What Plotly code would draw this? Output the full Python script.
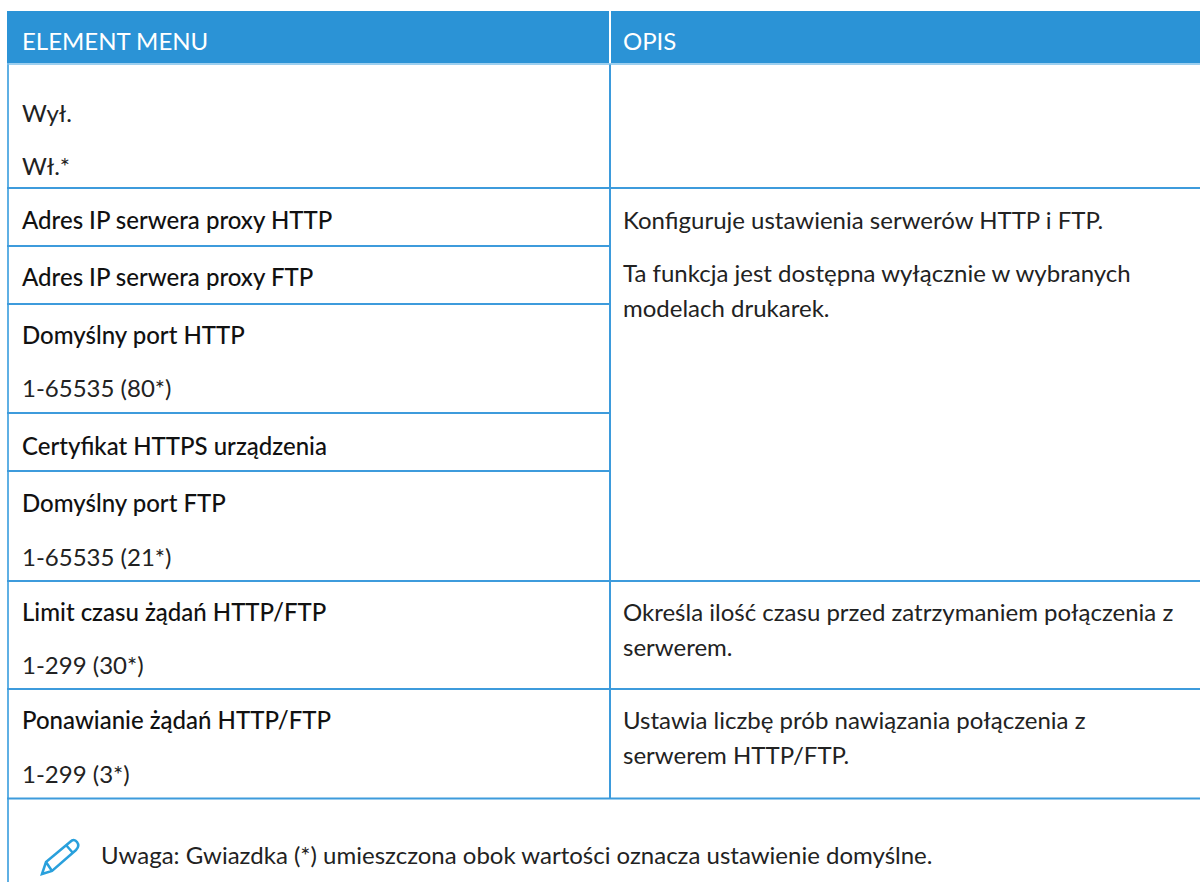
import plotly.graph_objects as go

headers = ["ELEMENT MENU", "OPIS"]
left_texts = ["Wył.", "Wł.*", "Adres IP serwera proxy HTTP", "Adres IP serwera proxy FTP",
              "Domyślny port HTTP", "1-65535 (80*)", "Certyfikat HTTPS urządzenia",
              "Domyślny port FTP", "1-65535 (21*)", "Limit czasu żądań HTTP/FTP",
              "1-299 (30*)", "Ponawianie żądań HTTP/FTP", "1-299 (3*)"]
left_strong = [0, 0, 1, 1, 1, 0, 1, 1, 0, 1, 0, 1, 0]
right_texts = ["Konfiguruje ustawienia serwerów HTTP i FTP.",
               "Ta funkcja jest dostępna wyłącznie w wybranych", "modelach drukarek.",
               "Określa ilość czasu przed zatrzymaniem połączenia z", "serwerem.",
               "Ustawia liczbę prób nawiązania połączenia z", "serwerem HTTP/FTP."]
note = "Uwaga: Gwiazdka (*) umieszczona obok wartości oznacza ustawienie domyślne."

left_y = [112, 165, 219, 276, 334, 387, 445, 502, 556, 611, 664, 719, 773]
right_y = [219, 272, 307, 611, 646, 719, 754]
left_rules = [188, 246, 304, 413, 471, 581, 689, 798.5]
right_rules = [188, 581, 689, 798.5]

BLUE = "#2b93d6"
LINE = "#3d9bdc"
INK = "#222222"
STRONG = "#111111"
FONT = "Lato"
SIZE = 24
COL = 610
LX = 20
RX = 621

fig = go.Figure()
shapes = [
    dict(type="rect", x0=7, x1=1200, y0=11, y1=63, fillcolor=BLUE, line_width=0, layer="below"),
    dict(type="line", x0=COL, x1=COL, y0=11, y1=63, line=dict(color="white", width=2)),
    dict(type="line", x0=8, x1=8, y0=63, y1=882, line=dict(color="#5fb0e4", width=2)),
    dict(type="line", x0=COL, x1=COL, y0=64, y1=798, line=dict(color=LINE, width=2)),
    dict(type="line", x0=7, x1=1200, y0=64, y1=64, line=dict(color="#7cbfea", width=1.5)),
]
for y in left_rules:
    shapes.append(dict(type="line", x0=7, x1=COL, y0=y, y1=y, line=dict(color=LINE, width=2)))
for y in right_rules:
    shapes.append(dict(type="line", x0=COL, x1=1200, y0=y, y1=y, line=dict(color=LINE, width=2)))
# pencil icon of the note
PEN = "#29a0dc"
shapes.append(dict(type="path",
    path="M42 874 L46 862 L70 842 Q74 838 77 842 Q80 846 76 850 L52 871 Z M46 862 L52 871 M66 845 L73 853",
    line=dict(color=PEN, width=2.5), fillcolor="rgba(0,0,0,0)"))

ann = []
def put(x, y, text, color=INK, weight=400, size=SIZE):
    ann.append(dict(x=x, y=y, text=text, showarrow=False, xanchor="left", yanchor="middle",
                    font=dict(family=FONT, size=size, color=color, weight=weight)))

put(LX, 40.5, headers[0], "white")
put(RX, 40.5, headers[1], "white")
for t, y, s in zip(left_texts, left_y, left_strong):
    put(LX, y, t, color=STRONG if s else INK, weight=500 if s else 400)
for t, y in zip(right_texts, right_y):
    put(RX, y, t)
put(99, 854, note)

fig.update_layout(
    width=1200, height=882, margin=dict(l=0, r=0, t=0, b=0),
    paper_bgcolor="white", plot_bgcolor="white",
    xaxis=dict(range=[0, 1200], visible=False, fixedrange=True),
    yaxis=dict(range=[882, 0], visible=False, fixedrange=True),
    shapes=shapes, annotations=ann, showlegend=False,
)
fig.write_html("out.html", config=dict(displayModeBar=False),
               post_script="document.body.style.margin='0';document.body.style.overflow='hidden';")
